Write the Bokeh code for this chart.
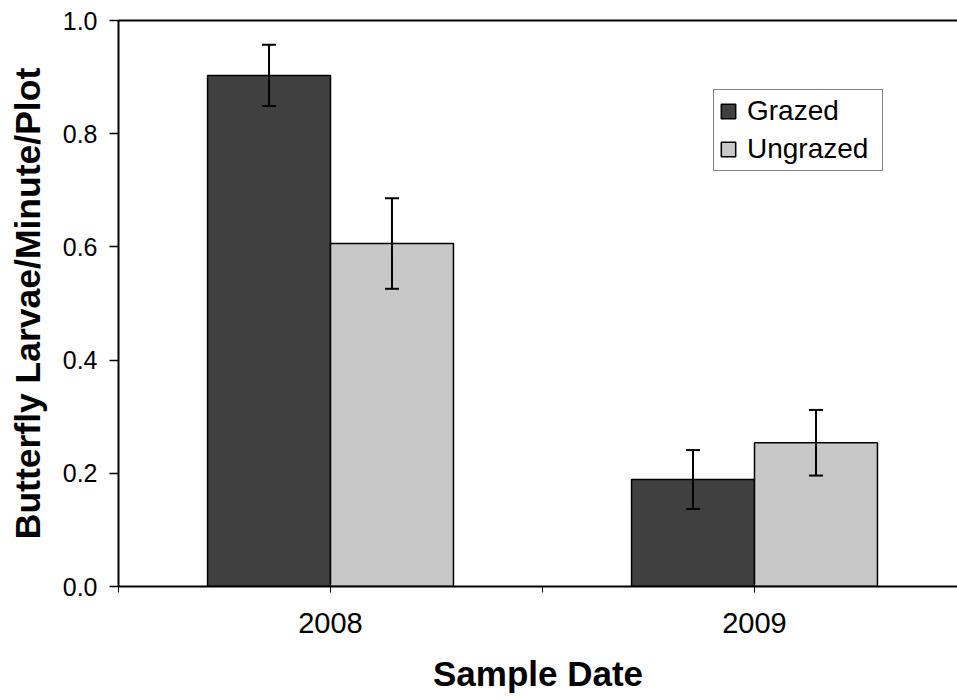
from bokeh.plotting import figure
from bokeh.models import (Range1d, FixedTicker, LinearAxis, Whisker, ColumnDataSource,
                          Legend, LegendItem, NumeralTickFormatter, TeeHead)
from bokeh.embed import file_html
from bokeh.resources import INLINE

# ---- data ----
years = ["2008", "2009"]
grazed = [0.903, 0.189]
grazed_se = [0.054, 0.052]
ungrazed = [0.606, 0.254]
ungrazed_se = [0.080, 0.058]
y_ticks = [0.0, 0.2, 0.4, 0.6, 0.8, 1.0]

FONT = "Liberation Sans"
BAR_W = 0.29
GRAZED_COLOR = "#404040"
UNGRAZED_COLOR = "#C8C8C8"

W, H = 957, 700
LEFT, TOP, BOTTOM = 118, 20, 114

p = figure(width=W, height=H, output_backend="svg", toolbar_location=None,
           x_range=Range1d(0, (W - LEFT) / 424), y_range=Range1d(0, 1),
           min_border_left=LEFT, min_border_right=0, min_border_top=TOP,
           min_border_bottom=BOTTOM)
p.xgrid.visible = False
p.ygrid.visible = False
p.outline_line_color = None
p.background_fill_color = "white"

centers = [i + 0.5 for i in range(len(years))]
src_g = ColumnDataSource(dict(
    x=[c - BAR_W / 2 for c in centers], top=grazed,
    upper=[v + e for v, e in zip(grazed, grazed_se)],
    lower=[v - e for v, e in zip(grazed, grazed_se)]))
src_u = ColumnDataSource(dict(
    x=[c + BAR_W / 2 for c in centers], top=ungrazed,
    upper=[v + e for v, e in zip(ungrazed, ungrazed_se)],
    lower=[v - e for v, e in zip(ungrazed, ungrazed_se)]))

r_g = p.vbar(x="x", top="top", bottom=0, width=BAR_W, source=src_g,
             fill_color=GRAZED_COLOR, line_color="black", line_width=1.5)
r_u = p.vbar(x="x", top="top", bottom=0, width=BAR_W, source=src_u,
             fill_color=UNGRAZED_COLOR, line_color="black", line_width=1.5)

for src in (src_g, src_u):
    w = Whisker(source=src, base="x", upper="upper", lower="lower", level="overlay",
                line_color="black", line_width=2,
                upper_head=TeeHead(size=14, line_width=2, line_color="black"),
                lower_head=TeeHead(size=14, line_width=2, line_color="black"))
    p.add_layout(w)

# x axis
xa = p.xaxis[0]
xa.ticker = FixedTicker(ticks=[0, 0.5, 1, 1.5, 2])
overrides = {0: "", 1: "", 2: ""}
for i, y in enumerate(years):
    overrides[i + 0.5] = y
xa.major_label_overrides = overrides
xa.major_tick_in = 0
xa.major_tick_out = 6
xa.major_tick_line_width = 1
xa.minor_tick_line_color = None
xa.axis_line_width = 2
xa.axis_line_color = "black"
xa.major_label_text_font = FONT
xa.major_label_text_font_size = "29px"
xa.major_label_text_color = "black"
xa.major_label_standoff = 20
xa.axis_label = "Sample Date"
xa.axis_label_text_font = FONT
xa.axis_label_text_font_size = "35px"
xa.axis_label_text_font_style = "bold"
xa.axis_label_text_color = "black"
xa.axis_label_standoff = 18

# y axis
ya = p.yaxis[0]
ya.ticker = FixedTicker(ticks=y_ticks)
ya.formatter = NumeralTickFormatter(format="0.0")
ya.major_tick_in = 0
ya.major_tick_out = 9
ya.major_tick_line_width = 1.5
ya.minor_tick_line_color = None
ya.axis_line_width = 2
ya.axis_line_color = "black"
ya.major_label_text_font = FONT
ya.major_label_text_font_size = "25px"
ya.major_label_text_color = "black"
ya.major_label_standoff = 12
ya.axis_label = "Butterfly Larvae/Minute/Plot"
ya.axis_label_text_font = FONT
ya.axis_label_text_font_size = "35.5px"
ya.axis_label_text_font_style = "bold"
ya.axis_label_text_color = "black"
ya.axis_label_standoff = 12

# top border line
top = LinearAxis(ticker=FixedTicker(ticks=[]), axis_line_width=2, axis_line_color="black",
                 major_tick_line_color=None, minor_tick_line_color=None,
                 major_label_text_font_size="0px")
p.add_layout(top, "above")

legend = Legend(items=[LegendItem(label="Grazed", renderers=[r_g]),
                       LegendItem(label="Ungrazed", renderers=[r_u])],
                location=(595, 415))
legend.border_line_color = "black"
legend.border_line_width = 1.5
legend.background_fill_color = "white"
legend.background_fill_alpha = 1
legend.margin = 0
legend.padding = 5
legend.spacing = 6
legend.label_height = 30
legend.label_width = 130
legend.glyph_height = 18
legend.glyph_width = 18
legend.label_standoff = 10
legend.label_text_font = FONT
legend.label_text_font_size = "28px"
legend.label_text_color = "black"
p.add_layout(legend)

open("out.html", "w").write(file_html(p, INLINE))
